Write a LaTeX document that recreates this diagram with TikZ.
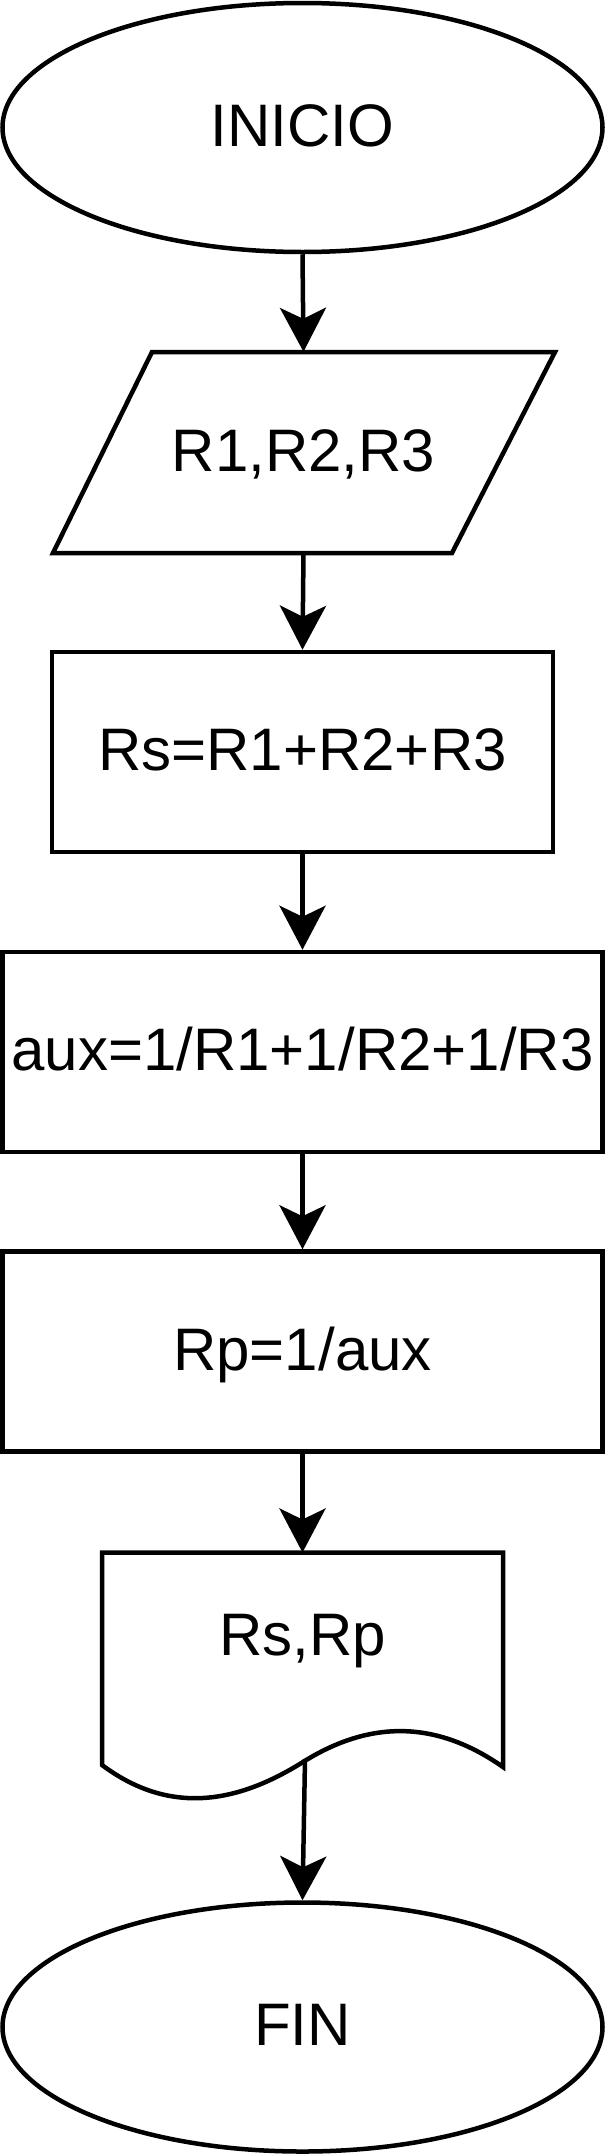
\documentclass[tikz,border=0pt]{standalone}
\usepackage{fontspec}
\setmainfont{Liberation Sans}
\usetikzlibrary{shapes.geometric,arrows.meta}
\begin{document}
\begin{tikzpicture}[x=1pt,y=-1pt,
  every node/.style={font=\fontsize{60}{72}\selectfont, text height=43pt, text depth=6pt, inner sep=0pt},
  term/.style={draw, line width=4.5pt, ellipse, minimum width=600pt, minimum height=249pt},
  proc/.style={draw, line width=4.5pt, rectangle, minimum height=200pt},
  shp/.style={draw, line width=4.5pt, line join=miter},
  arr/.style={line width=4.5pt, -{Stealth[length=44pt,width=46pt,inset=11pt]}}]
\useasboundingbox (0,0) rectangle (605,2155);

\node[term] (start) at (302.5,127.5) {INICIO};

\node[minimum width=402pt, minimum height=201pt] (in) at (303.5,452.5) {R1,R2,R3};
\draw[shp] (152,352) -- (555,352) -- (452,553) -- (53,553) -- cycle;

\node[proc, minimum width=501pt] (rs) at (302.5,752) {Rs=R1+R2+R3};
\node[proc, minimum width=600pt] (aux) at (302.5,1052) {aux=1/R1+1/R2+1/R3};
\node[proc, minimum width=600pt] (rp) at (302.5,1351.5) {Rp=1/aux};

\node (doc) at (302.5,1637) {Rs,Rp};
\coordinate (doctop) at (302.5,1552.5);
\coordinate (docout) at (305,1759);
\draw[shp] (102,1552.5) -- (503,1552.5) -- (503,1767)
  .. controls (436,1720) and (370,1720) .. (303,1762)
  .. controls (236,1804) and (169,1815) .. (102,1765) -- cycle;

\node[term] (fin) at (302.5,2027) {FIN};

\draw[arr] (start.south) -- (in.north);
\draw[arr] (in.south) -- (rs.north);
\draw[arr] (rs.south) -- (aux.north);
\draw[arr] (aux.south) -- (rp.north);
\draw[arr] (rp.south) -- (doctop);
\draw[arr] (docout) -- (fin.north);
\end{tikzpicture}
\end{document}
